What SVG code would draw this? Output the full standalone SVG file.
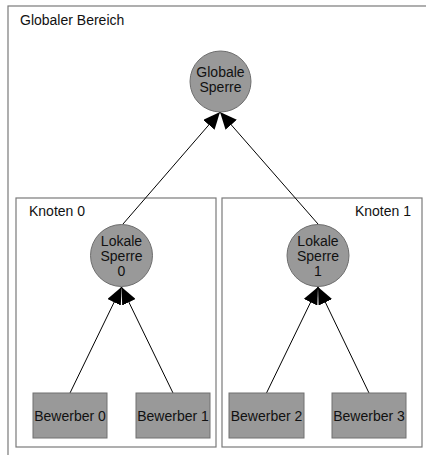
<svg xmlns="http://www.w3.org/2000/svg" width="426" height="455" viewBox="0 0 426 455">
<style>
text{font-family:"Liberation Sans",Arial,sans-serif;font-size:14px;fill:#111}
.area{fill:#fff;stroke:#7a7a7a;stroke-width:1.2}
.lock{fill:#999;stroke:#6e6e6e;stroke-width:1}
.cand{fill:#999;stroke:#707070;stroke-width:1}
.edge{stroke:#000;stroke-width:1;fill:none;marker-end:url(#ah)}
.c{text-anchor:middle}
</style>
<defs>
<marker id="ah" markerUnits="userSpaceOnUse" markerWidth="18" markerHeight="15" refX="17" refY="7.5" orient="auto">
<path d="M0,0 L17,7.5 L0,15 Z" fill="#000"/>
</marker>
</defs>
<rect width="426" height="455" fill="#fff"/>
<g id="global-area">
<rect class="area" x="8" y="6" width="430" height="460"/>
<text x="20" y="25">Globaler Bereich</text>
</g>
<g id="knoten0">
<rect class="area" x="16" y="198" width="200" height="249"/>
<text x="29" y="216">Knoten 0</text>
</g>
<g id="knoten1">
<rect class="area" x="222" y="198" width="200" height="249"/>
<text x="411" y="216" text-anchor="end">Knoten 1</text>
</g>
<g id="connectors">
<line class="edge" x1="123" y1="224" x2="220" y2="112"/>
<line class="edge" x1="318" y1="224" x2="220" y2="112"/>
<line class="edge" x1="70" y1="393" x2="121.5" y2="287"/>
<line class="edge" x1="173" y1="393" x2="121.5" y2="287"/>
<line class="edge" x1="266.5" y1="393" x2="318" y2="287"/>
<line class="edge" x1="369" y1="393" x2="318" y2="287"/>
</g>
<g id="globale-sperre">
<circle class="lock" cx="220.5" cy="81.5" r="30.5"/>
<text class="c" x="220.5" y="77">Globale</text>
<text class="c" x="220.5" y="92">Sperre</text>
</g>
<g id="lokale-sperre-0">
<circle class="lock" cx="121.5" cy="255.5" r="31"/>
<text class="c" x="121.5" y="246">Lokale</text>
<text class="c" x="121.5" y="261">Sperre</text>
<text class="c" x="121.5" y="276">0</text>
</g>
<g id="lokale-sperre-1">
<circle class="lock" cx="318" cy="255.5" r="31"/>
<text class="c" x="318" y="246">Lokale</text>
<text class="c" x="318" y="261">Sperre</text>
<text class="c" x="318" y="276">1</text>
</g>
<g id="bewerber0">
<rect class="cand" x="33" y="393" width="74" height="45"/>
<text class="c" x="70" y="421">Bewerber 0</text>
</g>
<g id="bewerber1">
<rect class="cand" x="136" y="393" width="74" height="45"/>
<text class="c" x="173" y="421">Bewerber 1</text>
</g>
<g id="bewerber2">
<rect class="cand" x="229" y="393" width="75" height="45"/>
<text class="c" x="266.5" y="421">Bewerber 2</text>
</g>
<g id="bewerber3">
<rect class="cand" x="332" y="393" width="74" height="45"/>
<text class="c" x="369" y="421">Bewerber 3</text>
</g>
</svg>
